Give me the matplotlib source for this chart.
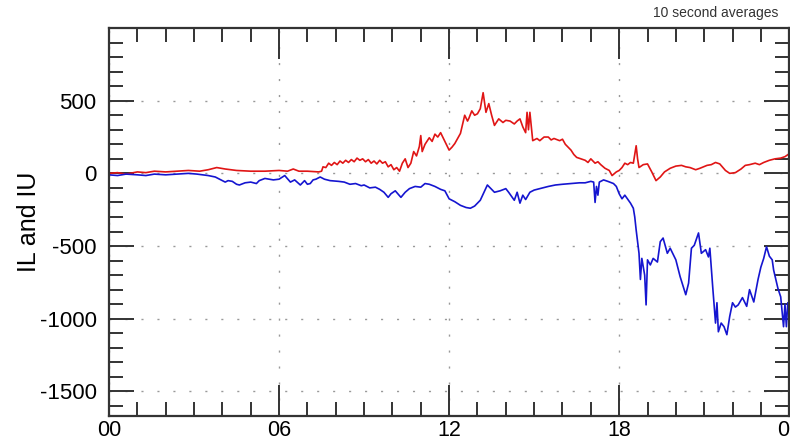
import numpy as np
import matplotlib.pyplot as plt
from matplotlib.ticker import MultipleLocator

plt.rcParams['font.family'] = ['Liberation Sans', 'DejaVu Sans']
plt.rcParams['axes.unicode_minus'] = False

# IU (red) - hours / value
t_iu = [0.0, 0.3, 0.6, 1.0, 1.3, 1.6, 2.0, 2.4, 2.8, 3.2, 3.5, 3.8, 4.1, 4.5, 5.0, 5.5,
        6.0, 6.3, 6.5, 6.7, 7.0, 7.4, 7.5, 7.55, 7.65, 7.75, 7.85, 7.95, 8.05, 8.15, 8.25,
        8.35, 8.45, 8.55, 8.65, 8.75, 8.85, 8.95, 9.05, 9.15, 9.25, 9.35, 9.45, 9.55,
        9.65, 9.75, 9.85, 9.95, 10.05, 10.15, 10.25, 10.35, 10.45, 10.55, 10.65, 10.75,
        10.85, 10.95, 11.0, 11.05, 11.15, 11.3, 11.4, 11.5, 11.6, 11.7, 11.85, 12.0, 12.1,
        12.2, 12.3, 12.4, 12.55, 12.65, 12.7, 12.8, 12.9, 13.0, 13.1, 13.2, 13.3, 13.4,
        13.5, 13.6, 13.75, 13.9, 14.0, 14.15, 14.3, 14.4, 14.5, 14.6, 14.7, 14.75, 14.8,
        14.85, 14.95, 15.1, 15.2, 15.35, 15.5, 15.6, 15.7, 15.9, 16.0, 16.1, 16.3, 16.4,
        16.5, 16.65, 16.8, 16.9, 17.0, 17.15, 17.25, 17.35, 17.5, 17.65, 17.75, 17.9, 18.0,
        18.1, 18.2, 18.3, 18.4, 18.5, 18.6, 18.65, 18.7, 18.85, 19.0, 19.15, 19.3, 19.45,
        19.6, 19.8, 20.0, 20.2, 20.35, 20.5, 20.7, 20.85, 21.1, 21.25, 21.4, 21.55, 21.75,
        21.9, 22.1, 22.3, 22.45, 22.6, 22.8, 22.95, 23.1, 23.3, 23.5, 23.7, 23.85, 24.0]
iu = [0, 5, -5, 10, 5, 15, 10, 15, 20, 15, 25, 40, 30, 20, 15, 15,
      20, 15, 30, 15, 15, 10, 15, 45, 40, 70, 55, 75, 60, 85, 70,
      90, 75, 95, 80, 105, 90, 100, 80, 95, 70, 85, 65, 90,
      70, 80, 45, 60, 25, 40, 15, 70, 100, 40, 70, 150,
      120, 185, 260, 150, 200, 245, 220, 270, 250, 280, 220, 160, 180,
      205, 240, 275, 400, 360, 380, 430, 400, 410, 445, 555, 420, 480,
      400, 330, 375, 350, 365, 360, 340, 360, 375, 320, 280, 420, 300,
      420, 225, 240, 225, 250, 250, 230, 240, 225, 235, 200, 160, 130,
      110, 100, 90, 75, 100, 70, 80, 60, 35, 20, -15, 10, 20,
      40, 70, 60, 75, 70, 190, 100, 40, 60, 65, 10, -50, -25,
      10, 35, 50, 55, 45, 40, 25, 35, 55, 60, 75, 65, 20,
      0, 5, 30, 55, 60, 70, 60, 75, 90, 100, 105, 115, 135]

# IL (blue)
t_il = [0.0, 0.3, 0.6, 1.0, 1.3, 1.6, 2.0, 2.4, 2.8, 3.1, 3.5, 3.75, 3.9, 4.1, 4.2, 4.35,
        4.5, 4.6, 4.8, 5.0, 5.2, 5.3, 5.5, 5.8, 6.0, 6.2, 6.4, 6.55, 6.75, 6.9, 7.0, 7.1,
        7.2, 7.3, 7.45, 7.6, 7.8, 8.1, 8.3, 8.5, 8.7, 8.9, 9.0, 9.2, 9.4, 9.55, 9.7, 9.85,
        9.95, 10.1, 10.3, 10.45, 10.6, 10.8, 11.0, 11.15, 11.3, 11.5, 11.7, 11.85, 12.0,
        12.2, 12.4, 12.6, 12.75, 12.9, 13.1, 13.35, 13.5, 13.6, 13.8, 14.0, 14.1, 14.3,
        14.4, 14.5, 14.6, 14.7, 14.85, 15.0, 15.2, 15.5, 15.75, 16.0, 16.3, 16.6, 16.8,
        17.0, 17.1, 17.15, 17.2, 17.25, 17.3, 17.45, 17.6, 17.8, 17.9, 18.0, 18.1, 18.2,
        18.4, 18.5, 18.55, 18.6, 18.7, 18.75, 18.8, 18.9, 18.95, 19.0, 19.1, 19.2, 19.35,
        19.45, 19.55, 19.7, 19.8, 20.0, 20.15, 20.35, 20.45, 20.55, 20.65, 20.8, 20.9,
        21.05, 21.15, 21.2, 21.3, 21.4, 21.45, 21.5, 21.6, 21.7, 21.8, 21.9, 22.0, 22.1,
        22.2, 22.35, 22.5, 22.6, 22.75, 22.9, 23.0, 23.1, 23.2, 23.3, 23.4, 23.45, 23.6,
        23.7, 23.8, 23.85, 23.9, 23.95, 24.0]
il = [-10, -15, -5, -10, -15, -5, -10, -5, 0, -5, -15, -25, -40, -60, -50, -55,
      -75, -80, -65, -60, -70, -50, -35, -45, -40, -15, -60, -45, -80, -50, -75, -70,
      -45, -40, -25, -40, -50, -55, -60, -75, -70, -85, -80, -100, -95, -110, -130, -165,
      -140, -120, -165, -130, -105, -90, -95, -70, -75, -90, -110, -120, -175,
      -195, -220, -235, -240, -225, -185, -80, -110, -130, -120, -105, -130, -185,
      -130, -205, -150, -180, -130, -115, -105, -90, -80, -75, -70, -65, -65,
      -55, -60, -200, -90, -150, -60, -45, -55, -70, -90, -140, -175, -150,
      -205, -240, -300, -390, -550, -730, -585, -700, -905, -595, -630, -585, -610,
      -470, -445, -550, -515, -595, -710, -835, -755, -515, -495, -410, -550,
      -525, -575, -515, -780, -1030, -890, -1090, -1030, -1055, -1110, -985, -890, -920,
      -905, -855, -915, -800, -885, -730, -645, -585, -505, -570, -595, -665, -790,
      -850, -1055, -900, -1055, -890, -940]

x_ticks = [0, 6, 12, 18, 24]
x_labels = ['00', '06', '12', '18', '00']
y_ticks = [500, 0, -500, -1000, -1500]

fig = plt.figure(figsize=(7.9, 4.45), dpi=100)
ax = fig.add_axes([0.138, 0.065, 0.861, 0.872])

ax.plot(t_iu, iu, color='#e01515', lw=1.2)
ax.plot(t_il, il, color='#1515d0', lw=1.2)

ax.set_xlim(0, 24)
ax.set_ylim(-1670, 1000)
ax.set_xticks(x_ticks)
ax.set_xticklabels(x_labels)
ax.set_yticks(y_ticks)
ax.xaxis.set_minor_locator(MultipleLocator(1))
ax.yaxis.set_minor_locator(MultipleLocator(100))

ax.tick_params(which='both', direction='in', top=True, right=True,
               color='#333333', width=1.4, labelsize=16)
ax.tick_params(axis='x', which='major', length=22, pad=3, labelsize=15.5)
ax.tick_params(axis='y', which='major', length=18, pad=9)
ax.tick_params(which='minor', length=10)
for s in ax.spines.values():
    s.set_color('#333333')
    s.set_linewidth(1.6)

ax.grid(True, which='major', color='#999999', lw=1.0, linestyle=(0, (1.5, 10)))

ax.set_ylabel('IL and IU', fontsize=18, labelpad=-1)
fig.text(0.985, 0.955, '10 second averages', ha='right', va='bottom', fontsize=10,
         color='#333333')

plt.savefig('out.png')
